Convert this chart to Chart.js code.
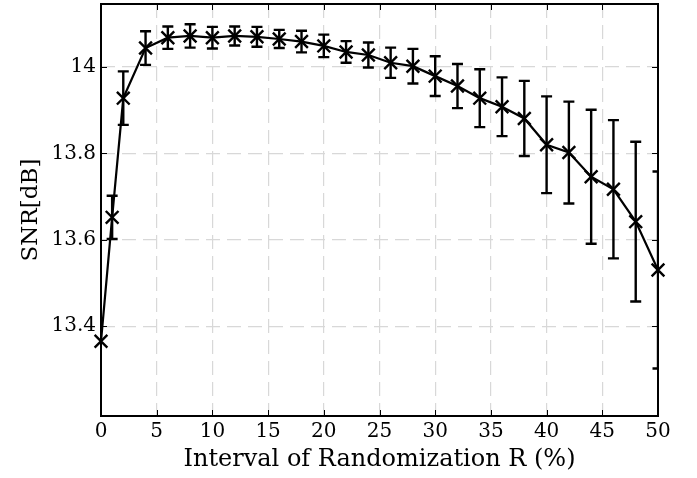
<!DOCTYPE html>
<html>
<head>
<meta charset="utf-8">
<script src="https://cdn.jsdelivr.net/npm/chart.js@4"></script>
<style>
  html, body { margin: 0; padding: 0; background: #fff; }
  #wrap { width: 697px; height: 478px; }
</style>
</head>
<body>
<div id="wrap"><canvas id="chart" width="697" height="478"></canvas></div>
<script>
// interval of randomization R (%)
const intervals = [0, 1, 2, 4, 6, 8, 10, 12, 14, 16, 18, 20, 22, 24, 26, 28, 30, 32, 34, 36, 38, 40, 42, 44, 46, 48, 50];
// mean SNR [dB]
const snrMean = [13.365, 13.652, 13.928, 14.044, 14.068, 14.072, 14.068, 14.072, 14.070, 14.065, 14.059, 14.049, 14.035, 14.028,
  14.010, 14.002, 13.979, 13.956, 13.928, 13.908, 13.881, 13.820, 13.802, 13.746, 13.717, 13.642, 13.530];
// half length of error bar
const snrErr = [0, 0.05, 0.062, 0.039, 0.026, 0.027, 0.025, 0.022, 0.023, 0.021, 0.025, 0.026, 0.025, 0.029,
  0.035, 0.040, 0.046, 0.051, 0.067, 0.068, 0.087, 0.112, 0.118, 0.155, 0.16, 0.185, 0.228];
const xTicks = [0, 5, 10, 15, 20, 25, 30, 35, 40, 45, 50];
const yTicks = [13.4, 13.6, 13.8, 14];

const FONT = '"DejaVu Serif", "Liberation Serif", serif';

const points = intervals.map((x, i) => ({ x: x, y: snrMean[i] }));

// error bars + inner ticks + box
const errorBars = {
  id: 'errorBars',
  beforeDatasetsDraw(chart) {
    const { ctx, chartArea: a, scales: { x, y } } = chart;
    ctx.save();
    ctx.beginPath();
    ctx.rect(a.left, a.top - 1, a.right - a.left, a.bottom - a.top + 2);
    ctx.clip();
    ctx.strokeStyle = '#000';
    ctx.lineWidth = 2.4;
    intervals.forEach((v, i) => {
      if (!snrErr[i]) return;
      const px = x.getPixelForValue(v);
      const top = y.getPixelForValue(snrMean[i] + snrErr[i]);
      const bot = y.getPixelForValue(snrMean[i] - snrErr[i]);
      ctx.beginPath();
      ctx.moveTo(px, top); ctx.lineTo(px, bot);
      ctx.moveTo(px - 5.5, top); ctx.lineTo(px + 5.5, top);
      ctx.moveTo(px - 5.5, bot); ctx.lineTo(px + 5.5, bot);
      ctx.stroke();
    });
    ctx.restore();
  },
  afterDatasetsDraw(chart) {
    const { ctx, chartArea: a, scales: { x, y } } = chart;
    ctx.save();
    ctx.strokeStyle = '#000';
    ctx.lineWidth = 1;
    ctx.beginPath();
    const tl = 6;
    xTicks.forEach(v => {
      const px = Math.round(x.getPixelForValue(v)) + 0.5;
      ctx.moveTo(px, a.bottom); ctx.lineTo(px, a.bottom - tl);
      ctx.moveTo(px, a.top); ctx.lineTo(px, a.top + tl);
    });
    yTicks.forEach(v => {
      const py = Math.round(y.getPixelForValue(v)) + 0.5;
      ctx.moveTo(a.left, py); ctx.lineTo(a.left + tl, py);
      ctx.moveTo(a.right, py); ctx.lineTo(a.right - tl, py);
    });
    ctx.stroke();
    ctx.lineWidth = 2;
    ctx.strokeRect(a.left, a.top, a.right - a.left, a.bottom - a.top);
    ctx.restore();
  }
};

new Chart(document.getElementById('chart'), {
  type: 'line',
  data: {
    datasets: [{
      data: points,
      borderColor: '#000',
      borderWidth: 2.2,
      tension: 0,
      fill: false,
      clip: false,
      pointStyle: 'crossRot',
      pointRadius: 9,
      pointBorderWidth: 2.4,
      pointBorderColor: '#000',
      pointBackgroundColor: '#000'
    }]
  },
  options: {
    responsive: false,
    animation: false,
    events: [],
    layout: { autoPadding: false, padding: { left: 0, right: 39, top: 4, bottom: 0 } },
    plugins: { legend: { display: false }, tooltip: { enabled: false } },
    scales: {
      x: {
        type: 'linear',
        min: 0,
        max: 50,
        afterBuildTicks: s => { s.ticks = xTicks.map(v => ({ value: v })); },
        afterFit: s => { s.height = 62; s.paddingLeft = 0; s.paddingRight = 0; },
        grid: { color: '#d8d8d8', lineWidth: 1.2, drawTicks: false },
        border: { display: false, dash: [14, 7] },
        ticks: { color: '#000', font: { family: FONT, size: 20 }, padding: 4, maxRotation: 0 },
        title: { display: true, text: 'Interval of Randomization R (%)', color: '#000',
          font: { family: FONT, size: 24 }, padding: { top: 0, bottom: 4 } }
      },
      y: {
        type: 'linear',
        min: 13.192,
        max: 14.146,
        afterBuildTicks: s => { s.ticks = yTicks.map(v => ({ value: v })); },
        afterFit: s => { s.width = 101; s.paddingTop = 0; s.paddingBottom = 0; },
        grid: { color: '#d8d8d8', lineWidth: 1.2, drawTicks: false },
        border: { display: false, dash: [14, 7] },
        ticks: { color: '#000', font: { family: FONT, size: 20 }, padding: 5,
          callback: v => String(Number(v.toFixed(1))) },
        title: { display: true, text: 'SNR[dB]', color: '#000',
          font: { family: FONT, size: 23 }, padding: { top: 17, bottom: 0 } }
      }
    }
  },
  plugins: [errorBars]
});
</script>
</body>
</html>
